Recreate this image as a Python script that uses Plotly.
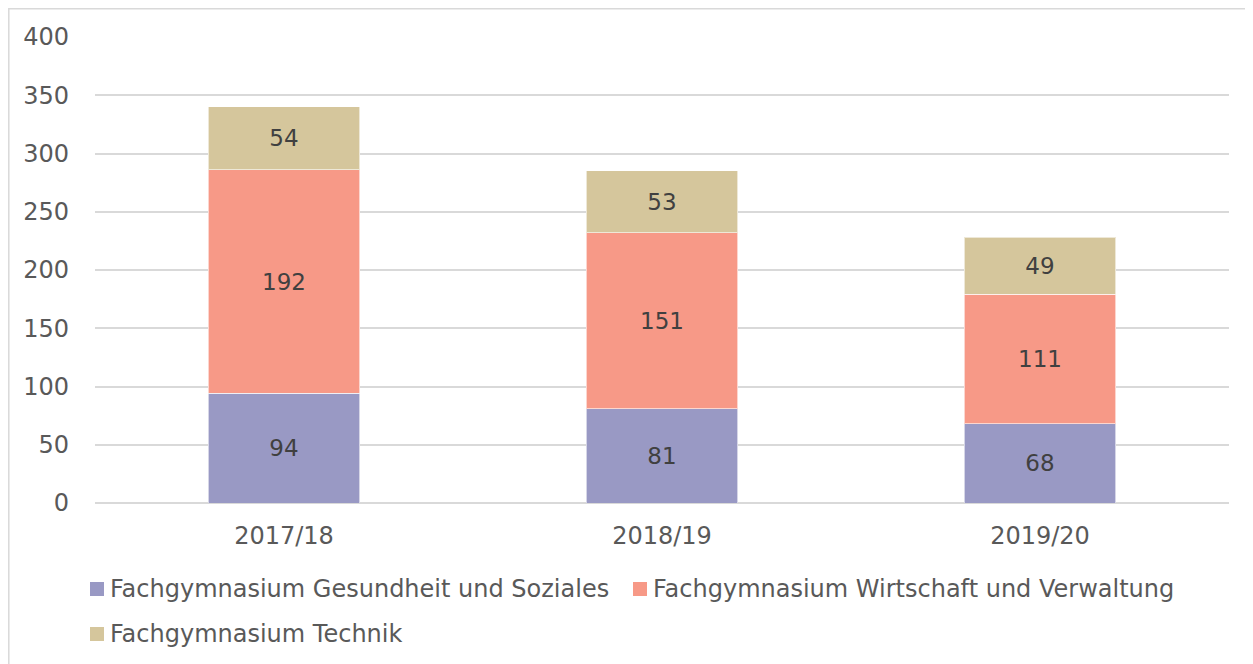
import plotly.graph_objects as go

categories = ["2017/18", "2018/19", "2019/20"]
series_names = [
    "Fachgymnasium Gesundheit und Soziales",
    "Fachgymnasium Wirtschaft und Verwaltung",
    "Fachgymnasium Technik",
]
gesundheit = [94, 81, 68]
wirtschaft = [192, 151, 111]
technik = [54, 53, 49]
colors = ["#9999C4", "#F79987", "#D5C69C"]
y_ticks = [0, 50, 100, 150, 200, 250, 300, 350, 400]

OFF = 8  # page body margin
W, H = 1253 - OFF, 664 - OFF
L, R, T, B = 95 - OFF, 24, 37 - OFF, 161
PW, PH = W - L - R, H - T - B

def px(x):
    return (x - OFF - L) / PW

def py(y):
    return (T + PH - (y - OFF)) / PH

FONT = "DejaVu Sans"
FS = 24
fig = go.Figure()
for name, vals, col in zip(series_names, [gesundheit, wirtschaft, technik], colors):
    fig.add_trace(go.Bar(
        x=categories, y=vals, name=name,
        marker=dict(color=col, line=dict(color="rgba(255,255,255,0.6)", width=1)),
        text=vals, texttemplate="%{text}", textposition="inside",
        insidetextanchor="middle", textangle=0, constraintext="none",
        textfont=dict(family=FONT, size=23, color="#404040"),
        showlegend=False,
    ))

fig.update_layout(
    barmode="stack", bargap=0.6,
    width=W, height=H,
    margin=dict(l=L, r=R, t=T, b=B),
    paper_bgcolor="white", plot_bgcolor="white",
    font=dict(family=FONT, size=FS, color="#595959"),
    xaxis=dict(showgrid=False, showline=False, ticks="", ticklabelstandoff=16,
               tickfont=dict(size=FS, color="#595959")),
    yaxis=dict(range=[0, 400], tickvals=y_ticks, showgrid=True, gridcolor="#D9D9D9",
               gridwidth=1.5, zeroline=True, zerolinecolor="#D9D9D9", zerolinewidth=1.5,
               showline=False, ticks="", ticklabelstandoff=25,
               tickfont=dict(size=FS, color="#595959")),
)

# chart border
fig.add_shape(type="rect", xref="paper", yref="paper",
              x0=px(8.8), x1=px(1252), y0=py(680), y1=py(8.8),
              line=dict(color="#D9D9D9", width=1.5), fillcolor="rgba(0,0,0,0)", layer="below")

# custom legend
legend_pos = [(90, 589), (633, 589), (90, 634)]
for name, col, (lx, ly) in zip(series_names, colors, legend_pos):
    fig.add_shape(type="rect", xref="paper", yref="paper",
                  x0=px(lx), x1=px(lx + 14), y0=py(ly + 7), y1=py(ly - 7),
                  line=dict(width=0), fillcolor=col)
    fig.add_annotation(xref="paper", yref="paper", x=px(lx + 18), y=py(ly),
                       text=name, showarrow=False, xanchor="left", yanchor="middle",
                       font=dict(family=FONT, size=FS, color="#595959"))

fig.write_html("out.html")
